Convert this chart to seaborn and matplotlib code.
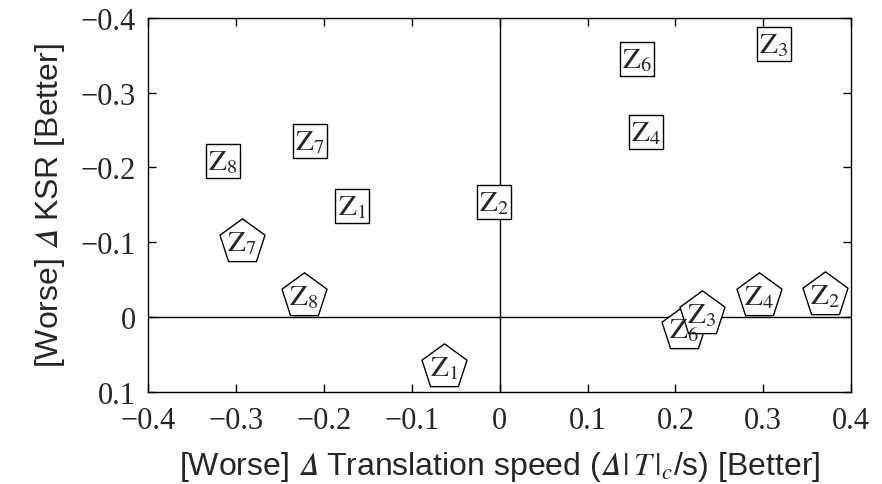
import matplotlib
matplotlib.use("Agg")
import matplotlib.pyplot as plt
import seaborn as sns
import pandas as pd

# Data
square_labels = ["Z3", "Z6", "Z4", "Z7", "Z8", "Z1", "Z2"]
square_x = [0.312, 0.156, 0.167, -0.216, -0.315, -0.168, -0.007]
square_y = [-0.365, -0.345, -0.247, -0.235, -0.209, -0.148, -0.154]

pent_labels = ["Z7", "Z8", "Z1", "Z6", "Z3", "Z4", "Z2"]
pent_x = [-0.293, -0.223, -0.063, 0.210, 0.230, 0.295, 0.370]
pent_y = [-0.100, -0.028, 0.067, 0.016, -0.004, -0.028, -0.030]

x_ticks = [-0.4, -0.3, -0.2, -0.1, 0, 0.1, 0.2, 0.3, 0.4]
y_ticks = [-0.4, -0.3, -0.2, -0.1, 0, 0.1]

df = pd.DataFrame({
    "x": square_x + pent_x,
    "y": square_y + pent_y,
    "label": square_labels + pent_labels,
    "shape": ["sq"] * len(square_labels) + ["pent"] * len(pent_labels),
})

sns.set_style("ticks")
plt.rcParams["mathtext.fontset"] = "stix"
plt.rcParams["font.family"] = ["Liberation Sans", "DejaVu Sans"]

fig = plt.figure(figsize=(8.82, 4.85), dpi=100)
ax = fig.add_axes([0.168, 0.19, 0.797, 0.771])

ax.axhline(0, color="black", lw=1, zorder=1)
ax.axvline(0, color="black", lw=1, zorder=1)

sq = df[df["shape"] == "sq"]
pe = df[df["shape"] == "pent"]
sns.scatterplot(data=sq, x="x", y="y", marker="s", s=600, facecolor="white",
                edgecolor="black", linewidth=1, ax=ax, zorder=3, legend=False)
sns.scatterplot(data=pe, x="x", y="y", marker="p", s=1160, facecolor="white",
                edgecolor="black", linewidth=1, ax=ax, zorder=3, legend=False)

for _, r in df.iterrows():
    n = r["label"][1:]
    ax.text(r["x"], r["y"], r"$\mathrm{Z}_{" + n + "}$", ha="center", va="center",
            fontsize=21, zorder=4)

ax.set_xlim(-0.4, 0.4)
ax.set_ylim(0.1, -0.4)
ax.set_xticks(x_ticks)
ax.set_yticks(y_ticks)
ax.set_xticklabels(["\u22120.4", "\u22120.3", "\u22120.2", "\u22120.1", "0", "0.1", "0.2", "0.3", "0.4"])
ax.set_yticklabels(["\u22120.4", "\u22120.3", "\u22120.2", "\u22120.1", "0", "0.1"])
ax.tick_params(direction="in", length=6, width=1, top=True, right=True,
               labelsize=22, labelfontfamily="Liberation Serif", color="black")
ax.tick_params(axis="x", pad=10)
ax.tick_params(axis="y", pad=9)
for s in ax.spines.values():
    s.set_color("black")
    s.set_linewidth(1)

D = "$\\mathrm{\U0001D6E5}$"
ax.set_xlabel("[Worse] " + D + " Translation speed (" + D + r"$\,|\,T\,|_c$/s) [Better]",
              fontsize=23, labelpad=10)
ax.set_ylabel("[Worse] " + D + " KSR [Better]", fontsize=23, labelpad=10)

fig.savefig("out.png", dpi=100)
